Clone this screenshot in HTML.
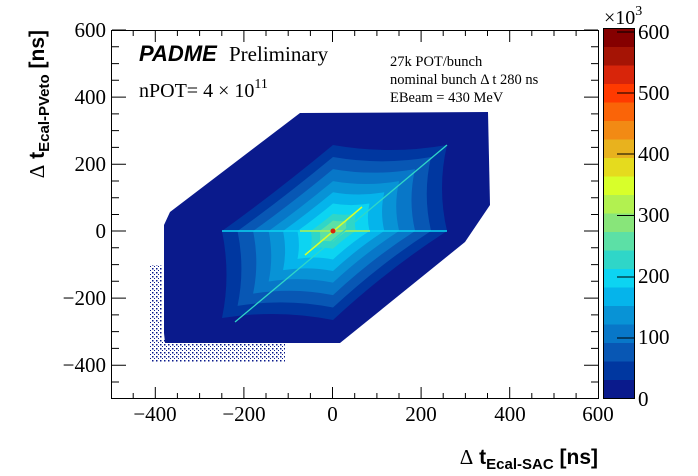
<!DOCTYPE html>
<html><head><meta charset="utf-8"><style>body{margin:0;background:#fff}svg{display:block}</style></head><body>
<svg width="698" height="476" viewBox="0 0 698 476" xmlns="http://www.w3.org/2000/svg">
<defs>
<pattern id="dots" width="4" height="4" patternUnits="userSpaceOnUse"><rect width="1.5" height="1.5" fill="#0A1A8C"/><rect x="2" y="2" width="1" height="1" fill="#0A1A8C"/></pattern>
<path id="hx" d="M-111,0 Q-102,44 -111,87 Q-55,78 0,89 Q55,38 114,0 Q104,-43 114,-86 Q57,-76 0,-86 Q-58,-38 -111,0 Z"/>
</defs>
<rect x="150" y="265" width="12" height="97" fill="url(#dots)"/>
<rect x="160" y="340" width="125" height="22" fill="url(#dots)"/>
<polygon fill="#0A1A8C" points="164,225 170,212 300,113 488,112 490,205 465,242 340,343 165,343 164,333"/>
<g transform="translate(333,231)">
<use href="#hx" fill="#0037A0"/>
<use href="#hx" fill="#0857B4" transform="scale(0.86)"/>
<use href="#hx" fill="#0877C8" transform="scale(0.72)"/>
<use href="#hx" fill="#0893D6" transform="scale(0.58)"/>
<use href="#hx" fill="#05B4EB" transform="scale(0.45)"/>
<use href="#hx" fill="#0CD4F2" transform="scale(0.32)"/>
<use href="#hx" fill="#2FD6C8" transform="scale(0.2)"/>
<use href="#hx" fill="#5CE0A6" transform="scale(0.12)"/>
</g>
<line x1="222" y1="231" x2="447" y2="231" stroke="#0CD4F2" stroke-width="1.5"/>
<line x1="300" y1="231" x2="370" y2="231" stroke="#B2F150" stroke-width="1.5"/>
<line x1="235" y1="322" x2="447" y2="145" stroke="#2FD6C8" stroke-width="1.3"/>
<line x1="305" y1="255" x2="362" y2="207" stroke="#D8FF2A" stroke-width="1.5"/>
<circle cx="333" cy="231" r="2.5" fill="#D8250A"/>
<rect x="111.5" y="30.5" width="487" height="368" fill="none" stroke="#000"/>
<g stroke="#000" stroke-width="1">
<path d="M155.3,398v-11M243.9,398v-11M332.5,398v-11M421.1,398v-11M509.7,398v-11M155.3,31v11M243.9,31v11M332.5,31v11M421.1,31v11M509.7,31v11"/>
<path d="M133.2,398v-5M177.4,398v-5M199.6,398v-5M221.8,398v-5M266,398v-5M288.2,398v-5M310.4,398v-5M354.7,398v-5M376.9,398v-5M399,398v-5M443.2,398v-5M465.4,398v-5M487.5,398v-5M531.8,398v-5M554,398v-5M576.1,398v-5"/>
<path d="M133.2,31v5M177.4,31v5M199.6,31v5M221.8,31v5M266,31v5M288.2,31v5M310.4,31v5M354.7,31v5M376.9,31v5M399,31v5M443.2,31v5M465.4,31v5M487.5,31v5M531.8,31v5M554,31v5M576.1,31v5"/>
<path d="M112,30h14M112,97.1h14M112,164.2h14M112,231h14M112,298.1h14M112,365.2h14M598,30h-14M598,97.1h-14M598,164.2h-14M598,231h-14M598,298.1h-14M598,365.2h-14"/>
<path d="M112,46.8h7M112,63.6h7M112,80.3h7M112,113.9h7M112,130.6h7M112,147.4h7M112,181h7M112,197.7h7M112,214.5h7M112,247.8h7M112,264.6h7M112,281.3h7M112,314.9h7M112,331.6h7M112,348.4h7M112,382h7"/>
<path d="M598,46.8h-7M598,63.6h-7M598,80.3h-7M598,113.9h-7M598,130.6h-7M598,147.4h-7M598,181h-7M598,197.7h-7M598,214.5h-7M598,247.8h-7M598,264.6h-7M598,281.3h-7M598,314.9h-7M598,331.6h-7M598,348.4h-7M598,382h-7"/>
</g>
<g font-family="Liberation Serif, serif" font-size="21" fill="#000">
<g text-anchor="middle">
<text x="155" y="421">−400</text><text x="244" y="421">−200</text><text x="332.5" y="421">0</text><text x="421" y="421">200</text><text x="510" y="421">400</text><text x="598" y="421">600</text>
</g>
<g text-anchor="end">
<text x="106" y="37">600</text><text x="106" y="104">400</text><text x="106" y="171">200</text><text x="106" y="238">0</text><text x="106" y="305">−200</text><text x="106" y="372">−400</text>
</g>
</g>
<g>
<rect x="603" y="379.5" width="32" height="19" fill="#0A1A8C"/>
<rect x="603" y="361" width="32" height="19" fill="#0037A0"/>
<rect x="603" y="342.5" width="32" height="19" fill="#0857B4"/>
<rect x="603" y="324" width="32" height="19" fill="#0877C8"/>
<rect x="603" y="305.5" width="32" height="19" fill="#0893D6"/>
<rect x="603" y="287" width="32" height="19" fill="#05B4EB"/>
<rect x="603" y="268.5" width="32" height="19" fill="#0CD4F2"/>
<rect x="603" y="250" width="32" height="19" fill="#2FD6C8"/>
<rect x="603" y="231.5" width="32" height="19" fill="#5CE0A6"/>
<rect x="603" y="213" width="32" height="19" fill="#88E57A"/>
<rect x="603" y="194.5" width="32" height="19" fill="#B2F150"/>
<rect x="603" y="176" width="32" height="19" fill="#D8FF2A"/>
<rect x="603" y="157.5" width="32" height="19" fill="#E5DB1E"/>
<rect x="603" y="139" width="32" height="19" fill="#E8B21E"/>
<rect x="603" y="120.5" width="32" height="19" fill="#F28A14"/>
<rect x="603" y="102" width="32" height="19" fill="#FA6408"/>
<rect x="603" y="83.5" width="32" height="19" fill="#FF3A00"/>
<rect x="603" y="65" width="32" height="19" fill="#D8250A"/>
<rect x="603" y="46.5" width="32" height="19" fill="#A51405"/>
<rect x="603" y="28" width="32" height="19" fill="#850000"/>
<rect x="603.5" y="28.5" width="31" height="370" fill="none" stroke="#000"/>
<path stroke="#000" d="M635,32h-18M635,93h-18M635,154h-18M635,215.5h-18M635,277h-18M635,338h-18" />
</g>
<g font-family="Liberation Serif, serif" font-size="21" fill="#000">
<text x="638" y="39">600</text><text x="638" y="100">500</text><text x="638" y="161">400</text><text x="638" y="222">300</text><text x="638" y="283">200</text><text x="638" y="344">100</text><text x="638" y="406">0</text>
<text x="604" y="24" font-size="20">×10<tspan font-size="14" dy="-9">3</tspan></text>
</g>
<text x="598" y="464" text-anchor="end" font-family="Liberation Sans, sans-serif" font-weight="bold" font-size="21"><tspan font-family="Liberation Serif, serif" font-weight="normal">Δ</tspan> t<tspan font-size="15" dy="5">Ecal-SAC</tspan><tspan dy="-5"> [ns]</tspan></text>
<text transform="translate(44,30) rotate(-90)" text-anchor="end" font-family="Liberation Sans, sans-serif" font-weight="bold" font-size="21"><tspan font-family="Liberation Serif, serif" font-weight="normal">Δ</tspan> t<tspan font-size="15" dy="5">Ecal-PVeto</tspan><tspan dy="-5"> [ns]</tspan></text>
<text x="139" y="61" font-family="Liberation Sans, sans-serif" font-weight="bold" font-style="italic" font-size="22">PADME</text>
<text x="229" y="61" font-family="Liberation Serif, serif" font-size="21">Preliminary</text>
<text x="139" y="97" font-family="Liberation Serif, serif" font-size="20">nPOT= 4 × 10<tspan font-size="14" dy="-9">11</tspan></text>
<g font-family="Liberation Serif, serif" font-size="14.5">
<text x="390" y="66">27k POT/bunch</text>
<text x="390" y="84">nominal bunch Δ t 280 ns</text>
<text x="390" y="102">EBeam = 430 MeV</text>
</g>
</svg>
</body></html>
